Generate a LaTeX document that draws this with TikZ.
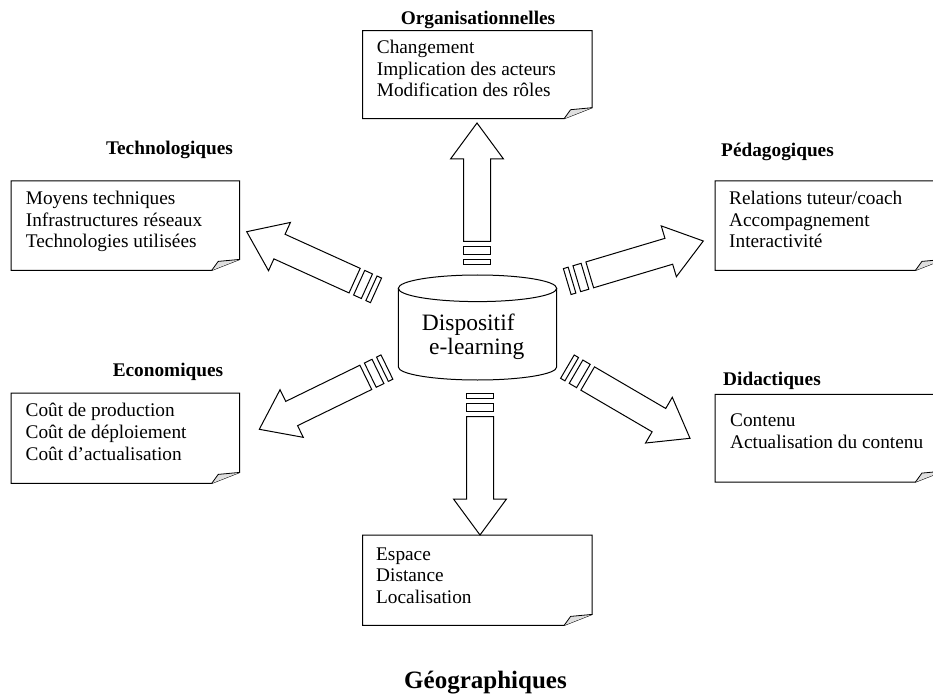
\documentclass[tikz,border=0pt]{standalone}
\usepackage{fontspec}
\setmainfont{Liberation Serif}
\tikzset{
  lw/.style={line width=1pt},
  frame/.style={draw=none, inner sep=0pt, anchor=north west},
  body/.style={anchor=base west, align=left, inner sep=0pt, font=\fontsize{19.3}{21.8}\selectfont},
  ttl/.style={anchor=base, inner sep=0pt, font=\bfseries\fontsize{19.3}{22}\selectfont},
  blockarrow/.pic={
    \draw[lw, fill=white] (0,0) -- (-36,26.5) -- (-36,13.5) -- (-118.5,13.5) -- (-118.5,-13.5) -- (-36,-13.5) -- (-36,-26.5) -- cycle;
    \draw[lw] (-123.5,-13.5) rectangle (-132,13.5);
    \draw[lw] (-137,-13.5) rectangle (-142,13.5);
  }
}
\newcommand{\foldframe}[1]{%
  \draw[lw] (#1.north west) -- (#1.north east) -- ([yshift=11pt]#1.south east) -- ([xshift=-28pt]#1.south east) -- (#1.south west) -- cycle;
  \draw[line width=0.8pt, fill=gray!25] ([xshift=-28pt]#1.south east) -- ([xshift=-21.5pt,yshift=9pt]#1.south east) -- ([yshift=11pt]#1.south east);
}
\begin{document}
\begin{tikzpicture}[x=1pt,y=-1pt]
\useasboundingbox (0,0) rectangle (933,700);
\clip (0,0) rectangle (933,700);
\fill[white] (0,0) rectangle (933,700);

% frames
\node[frame, minimum width=229, minimum height=87.6] (org) at (362.7,30.7) {};
\node[frame, minimum width=228.3, minimum height=89] (tech) at (11,181) {};
\node[frame, minimum width=228, minimum height=89] (peda) at (715,181) {};
\node[frame, minimum width=228.3, minimum height=90] (eco) at (11,393) {};
\node[frame, minimum width=228, minimum height=87.4] (dida) at (715,394.3) {};
\node[frame, minimum width=229, minimum height=90] (geo) at (362.7,535) {};
\foreach \n in {org,tech,peda,eco,dida,geo}{\foldframe{\n}}

% titles
\node[ttl] (orgH) at (478,25) {Organisationnelles};
\node[ttl] (techH) at (169.5,155) {Technologiques};
\node[ttl] (pedaH) at (777.5,156.5) {Pédagogiques};
\node[ttl] (ecoH) at (168,376.7) {Economiques};
\node[ttl] (didaH) at (772,385) {Didactiques};
\node[anchor=base, inner sep=0pt, font=\bfseries\fontsize{25}{28}\selectfont] (geoH) at (485.5,688) {Géographiques};

% texts (anchored at the baseline of the last line)
\node[body] (orgT) at (376.7,96.9) {Changement\\Implication des acteurs\\Modification des rôles};
\node[body] (techT) at (25.7,247.9) {Moyens techniques\\Infrastructures réseaux\\Technologies utilisées};
\node[body] (pedaT) at (729,247.9) {Relations tuteur/coach\\Accompagnement\\Interactivité};
\node[body] (ecoT) at (25.5,460.3) {Coût de production\\Coût de déploiement\\Coût d’actualisation};
\node[body] (didaT) at (730,448.5) {Contenu\\Actualisation du contenu};
\node[body] (geoT) at (376,603.6) {Espace\\Distance\\Localisation};

% cylinder
\draw[lw, fill=white] (398.3,288.3) -- (398.3,367) arc[start angle=180, end angle=0, x radius=79.2, y radius=13] -- (556.7,288.3);
\draw[lw] (477.5,288.3) ellipse[x radius=79.2, y radius=13.3];
\node[anchor=base west, align=left, inner sep=0pt, font=\fontsize{23.5}{24}\selectfont] (disp) at (421.7,354) {Dispositif\\\hspace*{7.3pt}e-learning};

% block arrows
\pic (aUp) [rotate=90] at (477,123) {blockarrow};
\pic (aDown) [rotate=-90] at (480,535) {blockarrow};
\pic (aTL) [rotate=155.6] at (246.7,231.7) {blockarrow};
\pic (aTR) [rotate=16.6] at (703.3,241) {blockarrow};
\pic (aBL) [rotate=206] at (259.3,429.3) {blockarrow};
\pic (aBR) [rotate=-30.3] at (690,438.3) {blockarrow};
\end{tikzpicture}
\end{document}
